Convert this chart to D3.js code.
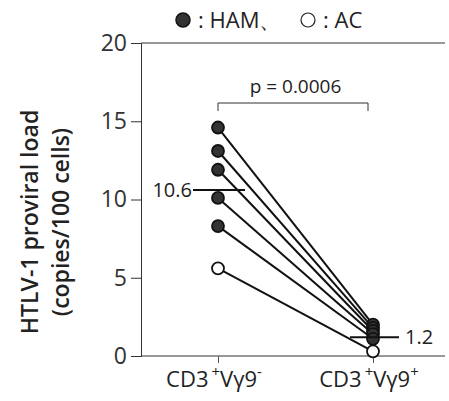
<!DOCTYPE html>
<html>
<head>
<meta charset="utf-8">
<script src="https://cdn.jsdelivr.net/npm/d3@7"></script>
<style>
  body { margin: 0; background: #fff; }
  text { font-family: "Open Sans", "Noto Sans", sans-serif; fill: #222; }
</style>
</head>
<body>
<div id="chart"></div>
<script>
// Groups on the x axis
var groups = ["neg", "pos"];
// Values per subject: left (CD3+Vγ9-), right (CD3+Vγ9+)
var leftValues = [14.6, 13.1, 11.9, 10.1, 8.3, 5.6];
var rightValues = [2.0, 1.8, 1.6, 1.4, 1.1, 0.3];
var subjectType = ["HAM", "HAM", "HAM", "HAM", "HAM", "AC"];
// Mean values shown
var meanValues = [10.6, 1.2];
var meanLabels = ["10.6", "1.2"];
var yTicks = [0, 5, 10, 15, 20];

var width = 449, height = 401;
var margin = { top: 43, right: 4, bottom: 45, left: 141 };

var svg = d3.select("#chart").append("svg")
  .attr("width", width)
  .attr("height", height);

// Scales
var x = d3.scalePoint()
  .domain(groups)
  .range([218, 373]);

var y = d3.scaleLinear()
  .domain([0, 20])
  .range([height - margin.bottom, margin.top]);

// Y axis
var yAxis = svg.append("g")
  .attr("transform", "translate(" + margin.left + ",0)")
  .call(d3.axisLeft(y).tickValues(yTicks).tickSize(10).tickPadding(4));
yAxis.select(".domain").attr("stroke", "#333");
yAxis.selectAll(".tick line").attr("stroke", "#333");
yAxis.selectAll("text")
  .style("font-size", "23px")
  .style("fill", "#333");

// X axis line + top frame
var xAxis = svg.append("g")
  .attr("transform", "translate(0," + y(0) + ")")
  .call(d3.axisBottom(x).tickSize(7).tickFormat(""));
xAxis.select(".domain").attr("d", "M" + margin.left + ",0H" + (width - margin.right)).attr("stroke", "#333");
xAxis.selectAll(".tick line").attr("stroke", "#555");

svg.append("line")
  .attr("x1", margin.left).attr("x2", width - margin.right)
  .attr("y1", y(20)).attr("y2", y(20))
  .attr("stroke", "#333");

// Category labels with superscripts
var catSup = [["+", "-"], ["+", "+"]];
groups.forEach(function (g, i) {
  var t = svg.append("text")
    .attr("x", x(g) - 4)
    .attr("y", 387)
    .attr("text-anchor", "middle")
    .style("font-size", "22px");
  t.append("tspan").text("CD3");
  t.append("tspan").text(catSup[i][0]).attr("dx", 3).attr("dy", -10).style("font-size", "15px");
  t.append("tspan").text("Vγ9").attr("dy", 10);
  t.append("tspan").text(catSup[i][1]).attr("dy", -10).style("font-size", "15px");
});

// Y axis title
var yt = svg.append("text")
  .attr("transform", "translate(38," + 222 + ") rotate(-90)")
  .attr("text-anchor", "middle")
  .style("font-size", "23px")
  .style("font-weight", "600");
yt.append("tspan").attr("x", 0).attr("dy", 0).text("HTLV-1 proviral load");
yt.append("tspan").attr("x", 0).attr("dy", 31).text("(copies/100 cells)");

// Paired lines
leftValues.forEach(function (v, i) {
  svg.append("line")
    .attr("x1", x("neg")).attr("y1", y(v))
    .attr("x2", x("pos")).attr("y2", y(rightValues[i]))
    .attr("stroke", "#111")
    .attr("stroke-width", 2);
});

// Mean lines
svg.append("line")
  .attr("x1", x("neg") - 25).attr("x2", x("neg") + 27)
  .attr("y1", y(meanValues[0])).attr("y2", y(meanValues[0]))
  .attr("stroke", "#111").attr("stroke-width", 2);
svg.append("text")
  .attr("x", x("neg") - 26).attr("y", y(meanValues[0]) + 7)
  .attr("text-anchor", "end")
  .style("font-size", "20px")
  .text(meanLabels[0]);

// Points
function drawPoints(vals, g) {
  vals.forEach(function (v, i) {
    svg.append("circle")
      .attr("cx", x(g)).attr("cy", y(v))
      .attr("r", 6)
      .attr("fill", subjectType[i] === "AC" ? "#fff" : "#333")
      .attr("stroke", "#111")
      .attr("stroke-width", 1.8);
  });
}
drawPoints(leftValues, "neg");
drawPoints(rightValues, "pos");

svg.append("line")
  .attr("x1", x("pos") - 23).attr("x2", x("pos") + 26)
  .attr("y1", y(meanValues[1])).attr("y2", y(meanValues[1]))
  .attr("stroke", "#111").attr("stroke-width", 2);
svg.append("text")
  .attr("x", x("pos") + 32).attr("y", y(meanValues[1]) + 7)
  .style("font-size", "20px")
  .text(meanLabels[1]);

// p-value bracket
var by = 103;
svg.append("path")
  .attr("d", "M" + x("neg") + "," + (by + 8) + "V" + by + "H" + (x("pos") - 5) + "V" + (by + 8))
  .attr("fill", "none")
  .attr("stroke", "#333");
svg.append("text")
  .attr("x", (x("neg") + x("pos")) / 2)
  .attr("y", 93)
  .attr("text-anchor", "middle")
  .style("font-size", "19px")
  .text("p = 0.0006");

// Legend
svg.append("circle").attr("cx", 183).attr("cy", 20).attr("r", 7)
  .attr("fill", "#333").attr("stroke", "#111").attr("stroke-width", 1.5);
svg.append("text").attr("x", 198).attr("y", 28).style("font-size", "22px").text(": HAM、");
svg.append("circle").attr("cx", 308).attr("cy", 20).attr("r", 7)
  .attr("fill", "#fff").attr("stroke", "#222").attr("stroke-width", 1.2);
svg.append("text").attr("x", 323).attr("y", 28).style("font-size", "22px").text(": AC");
</script>
</body>
</html>
